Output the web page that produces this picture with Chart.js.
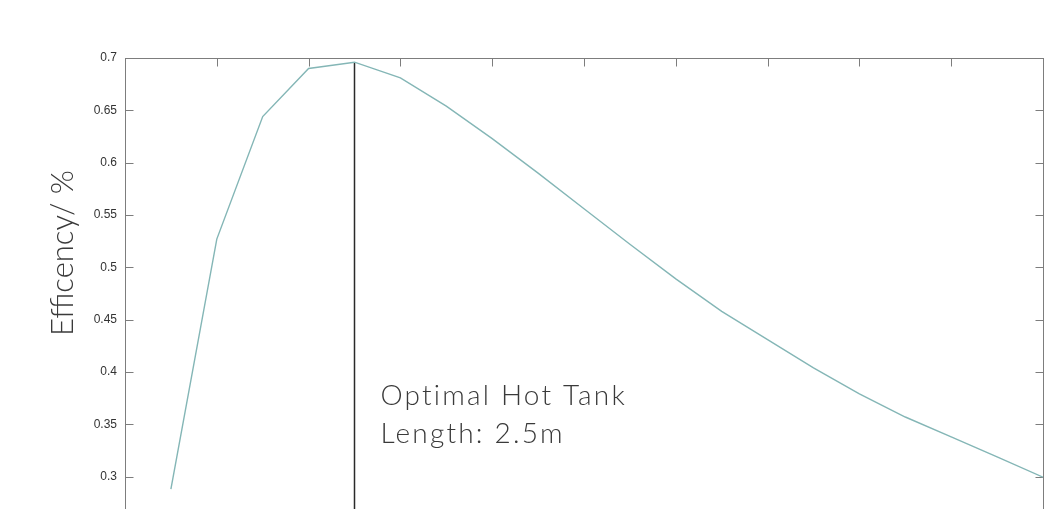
<!DOCTYPE html>
<html>
<head>
<meta charset="utf-8">
<title>Efficiency vs hot tank length</title>
<script src="https://cdn.jsdelivr.net/npm/chart.js@4.4.1/dist/chart.umd.min.js"></script>
<style>
  html, body { margin: 0; padding: 0; background: #ffffff; overflow: hidden; }
  #wrap { position: relative; width: 1060px; height: 600px; }
</style>
</head>
<body>
<div id="wrap"><canvas id="chart"></canvas></div>
<script>
// Hot tank length (m) and the resulting storage efficiency
const tankLengths = [0.5, 1.0, 1.5, 2.0, 2.5, 3.0, 3.5, 4.0, 4.5, 5.0,
                     5.5, 6.0, 6.5, 7.0, 7.5, 8.0, 8.5, 9.0, 9.5, 10.0];
const efficiency  = [0.288, 0.527, 0.644, 0.690, 0.696, 0.681, 0.654, 0.623, 0.590, 0.556,
                     0.522, 0.489, 0.458, 0.431, 0.404, 0.379, 0.357, 0.338, 0.319, 0.2995];

// Axis ticks
const xTickValues = [0, 1, 2, 3, 4, 5, 6, 7, 8, 9, 10];
const yTickValues = [0.25, 0.3, 0.35, 0.4, 0.45, 0.5, 0.55, 0.6, 0.65, 0.7];

// Marked optimum
const optimalLength = 2.5;
const yAxisTitle = 'Efficency/ %';
const noteLines = ['Optimal Hot Tank', 'Length: 2.5m'];

const X_MIN = 0, X_MAX = 10, Y_MIN = 0.25, Y_MAX = 0.7;
const optimalEfficiency = efficiency[tankLengths.indexOf(optimalLength)];

// Boxed axes with inward tick marks on all four sides
const boxAxes = {
  id: 'boxAxes',
  beforeDatasetsDraw(chart) {
    const { ctx, chartArea: a, scales } = chart;
    const L = Math.round(a.left) + 0.5, R = Math.round(a.right) + 0.5;
    const T = Math.round(a.top) + 0.5, B = Math.round(a.bottom) + 0.5;
    const len = 8;
    ctx.save();
    ctx.strokeStyle = '#7d7d7d';
    ctx.lineWidth = 1;
    ctx.strokeRect(L, T, R - L, B - T);
    ctx.beginPath();
    scales.x.ticks.forEach(t => {
      const px = Math.round(scales.x.getPixelForValue(t.value)) + 0.5;
      ctx.moveTo(px, T); ctx.lineTo(px, T + len);
      ctx.moveTo(px, B); ctx.lineTo(px, B - len);
    });
    scales.y.ticks.forEach(t => {
      const py = Math.round(scales.y.getPixelForValue(t.value)) + 0.5;
      ctx.moveTo(L, py); ctx.lineTo(L + len, py);
      ctx.moveTo(R, py); ctx.lineTo(R - len, py);
    });
    ctx.stroke();
    ctx.restore();
  }
};

// Y-axis title and the note beside the optimum marker
const labels = {
  id: 'labels',
  afterDraw(chart) {
    const { ctx, scales } = chart;
    ctx.save();
    ctx.fillStyle = '#3a3a3a';
    ctx.font = '300 31px Lato, "Open Sans", sans-serif';
    ctx.textAlign = 'center';
    ctx.textBaseline = 'alphabetic';
    ctx.translate(73, 253);
    ctx.rotate(-Math.PI / 2);
    ctx.fillText(yAxisTitle, 0, 0);
    ctx.restore();

    ctx.save();
    ctx.fillStyle = '#3a3a3a';
    ctx.font = '300 28px Lato, "Open Sans", sans-serif';
    if ('letterSpacing' in ctx) ctx.letterSpacing = '2.2px';
    ctx.textAlign = 'left';
    ctx.textBaseline = 'alphabetic';
    const x0 = scales.x.getPixelForValue(optimalLength) + 26;
    noteLines.forEach((line, i) => ctx.fillText(line, x0, 405 + i * 38));
    ctx.restore();
  }
};

new Chart(document.getElementById('chart'), {
  type: 'line',
  data: {
    datasets: [
      {
        data: tankLengths.map((x, i) => ({ x, y: efficiency[i] })),
        borderColor: '#84b6b6',
        borderWidth: 1.4,
        pointRadius: 0,
        tension: 0,
        fill: false
      },
      {
        data: [{ x: optimalLength, y: Y_MIN }, { x: optimalLength, y: optimalEfficiency }],
        borderColor: '#2a2a2a',
        borderWidth: 1.5,
        pointRadius: 0,
        fill: false
      }
    ]
  },
  options: {
    responsive: true,
    maintainAspectRatio: false,
    animation: false,
    layout: { padding: { left: 0, top: 58, right: 17, bottom: 31 } },
    plugins: { legend: { display: false }, tooltip: { enabled: false } },
    scales: {
      x: {
        type: 'linear', min: X_MIN, max: X_MAX,
        afterBuildTicks: s => { s.ticks = xTickValues.map(v => ({ value: v })); },
        afterFit: s => { s.height = 40; },
        ticks: { display: false },
        grid: { display: false, drawTicks: false },
        border: { display: false }
      },
      y: {
        type: 'linear', min: Y_MIN, max: Y_MAX,
        afterBuildTicks: s => { s.ticks = yTickValues.map(v => ({ value: v })); },
        afterFit: s => { s.width = 125; },
        ticks: {
          padding: 8,
          color: '#333333',
          font: { family: '"Liberation Sans", Arial, sans-serif', size: 12 },
          callback: v => String(Number(v.toFixed(2)))
        },
        grid: { display: false, drawTicks: false },
        border: { display: false }
      }
    }
  },
  plugins: [boxAxes, labels]
});
</script>
</body>
</html>
